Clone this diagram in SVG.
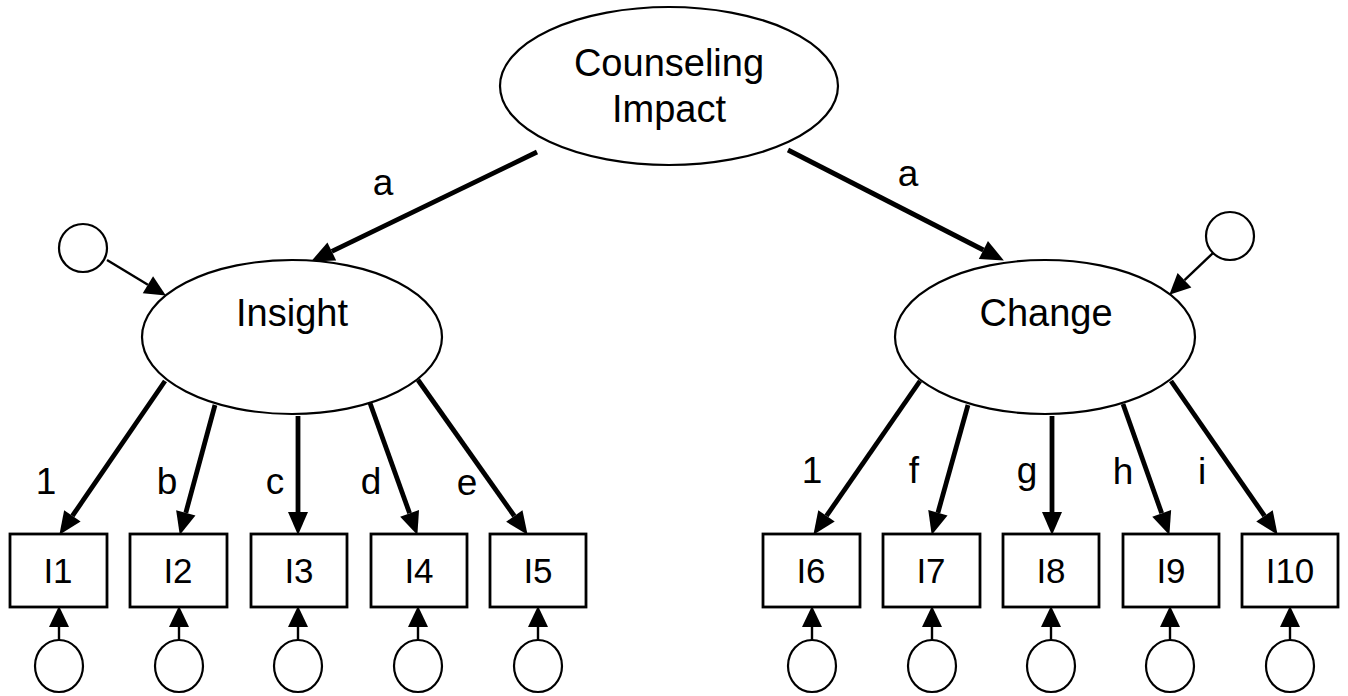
<svg xmlns="http://www.w3.org/2000/svg" width="1348" height="696" viewBox="0 0 1348 696">
<style>
.sh{fill:#fff;stroke:#000;stroke-width:2.2}
.bx{fill:#fff;stroke:#000;stroke-width:2.8}
.t{font-family:"Liberation Sans",Arial,sans-serif;fill:#000;text-anchor:middle}
.lat{font-size:38px}
.obs{font-size:35px}
.lab{font-size:37px}
.thick{stroke:#000;stroke-width:4.8;fill:none;marker-end:url(#hT)}
.thin{stroke:#000;stroke-width:2.4;fill:none;marker-end:url(#hS)}
</style>
<defs>
<marker id="hT" markerUnits="userSpaceOnUse" markerWidth="23" markerHeight="21" refX="0" refY="10" orient="auto" overflow="visible"><path d="M0,0 L23,10 L0,20 z" fill="#000"/></marker>
<marker id="hS" markerUnits="userSpaceOnUse" markerWidth="21" markerHeight="21" refX="0" refY="10" orient="auto" overflow="visible"><path d="M0,0 L21,10 L0,20 z" fill="#000"/></marker>
</defs>
<rect width="1348" height="696" fill="#fff"/>
<g id="connectors">
<line class="thick" x1="537" y1="152" x2="331.8" y2="251.4"/>
<line class="thick" x1="788" y1="150" x2="983.4" y2="250"/>
<line class="thick" x1="165" y1="381" x2="72.4" y2="515.9"/>
<line class="thick" x1="215" y1="405" x2="185.8" y2="512.8"/>
<line class="thick" x1="298" y1="416" x2="298" y2="512"/>
<line class="thick" x1="370" y1="403" x2="409.6" y2="513.3"/>
<line class="thick" x1="418" y1="380" x2="514.3" y2="516"/>
<line class="thick" x1="920" y1="381" x2="826.5" y2="515.9"/>
<line class="thick" x1="968" y1="405" x2="937.9" y2="512.8"/>
<line class="thick" x1="1052" y1="416" x2="1052" y2="512"/>
<line class="thick" x1="1123" y1="404" x2="1161.7" y2="513.3"/>
<line class="thick" x1="1171" y1="381" x2="1264.5" y2="515.9"/>
<line class="thin" x1="107" y1="260" x2="147.9" y2="284.7"/>
<line class="thin" x1="1213" y1="253" x2="1184.5" y2="280.2"/>
<line class="thin" x1="59" y1="641" x2="59" y2="627"/>
<line class="thin" x1="179" y1="641" x2="179" y2="627"/>
<line class="thin" x1="298" y1="641" x2="298" y2="627"/>
<line class="thin" x1="418" y1="641" x2="418" y2="627"/>
<line class="thin" x1="538" y1="641" x2="538" y2="627"/>
<line class="thin" x1="812" y1="641" x2="812" y2="627"/>
<line class="thin" x1="932" y1="641" x2="932" y2="627"/>
<line class="thin" x1="1051" y1="641" x2="1051" y2="627"/>
<line class="thin" x1="1170" y1="641" x2="1170" y2="627"/>
<line class="thin" x1="1290" y1="641" x2="1290" y2="627"/>
<text class="t lab" x="383" y="195">a</text>
<text class="t lab" x="908" y="186">a</text>
<text class="t lab" x="46" y="494">1</text>
<text class="t lab" x="167" y="494">b</text>
<text class="t lab" x="275" y="494">c</text>
<text class="t lab" x="371" y="494">d</text>
<text class="t lab" x="467" y="495">e</text>
<text class="t lab" x="812" y="483">1</text>
<text class="t lab" x="914" y="483">f</text>
<text class="t lab" x="1027" y="483">g</text>
<text class="t lab" x="1123" y="484">h</text>
<text class="t lab" x="1202" y="484">i</text>
</g>
<g id="counseling-impact">
<ellipse class="sh" cx="669" cy="86" rx="169" ry="79"/>
<text class="t lat" x="669" y="76">Counseling</text>
<text class="t lat" x="669" y="122">Impact</text>
</g>
<g id="insight">
<ellipse class="sh" cx="292" cy="337" rx="150" ry="77"/>
<text class="t lat" x="292" y="326">Insight</text>
</g>
<g id="change">
<ellipse class="sh" cx="1045" cy="337" rx="150" ry="77"/>
<text class="t lat" x="1046" y="326">Change</text>
</g>
<g id="d-insight"><circle class="sh" cx="83" cy="248" r="24"/></g>
<g id="d-change"><circle class="sh" cx="1230" cy="236" r="24"/></g>
<g id="I1"><rect class="bx" x="10" y="534" width="97" height="73"/><text class="t obs" x="58" y="583">I1</text></g>
<g id="I2"><rect class="bx" x="130" y="534" width="97" height="73"/><text class="t obs" x="178" y="583">I2</text></g>
<g id="I3"><rect class="bx" x="251" y="534" width="96" height="73"/><text class="t obs" x="299" y="583">I3</text></g>
<g id="I4"><rect class="bx" x="371" y="534" width="96" height="73"/><text class="t obs" x="419" y="583">I4</text></g>
<g id="I5"><rect class="bx" x="490" y="534" width="96" height="73"/><text class="t obs" x="538" y="583">I5</text></g>
<g id="I6"><rect class="bx" x="763" y="534" width="97" height="73"/><text class="t obs" x="811" y="583">I6</text></g>
<g id="I7"><rect class="bx" x="883" y="534" width="97" height="73"/><text class="t obs" x="931" y="583">I7</text></g>
<g id="I8"><rect class="bx" x="1003" y="534" width="96" height="73"/><text class="t obs" x="1051" y="583">I8</text></g>
<g id="I9"><rect class="bx" x="1123" y="534" width="96" height="73"/><text class="t obs" x="1171" y="583">I9</text></g>
<g id="I10"><rect class="bx" x="1242" y="534" width="96" height="73"/><text class="t obs" x="1290" y="583">I10</text></g>
<g id="e1"><ellipse class="sh" cx="59" cy="666" rx="24" ry="26"/></g>
<g id="e2"><ellipse class="sh" cx="179" cy="666" rx="24" ry="26"/></g>
<g id="e3"><ellipse class="sh" cx="298" cy="666" rx="24" ry="26"/></g>
<g id="e4"><ellipse class="sh" cx="418" cy="666" rx="24" ry="26"/></g>
<g id="e5"><ellipse class="sh" cx="538" cy="666" rx="24" ry="26"/></g>
<g id="e6"><ellipse class="sh" cx="812" cy="666" rx="24" ry="26"/></g>
<g id="e7"><ellipse class="sh" cx="932" cy="666" rx="24" ry="26"/></g>
<g id="e8"><ellipse class="sh" cx="1051" cy="666" rx="24" ry="26"/></g>
<g id="e9"><ellipse class="sh" cx="1170" cy="666" rx="24" ry="26"/></g>
<g id="e10"><ellipse class="sh" cx="1290" cy="666" rx="24" ry="26"/></g>
</svg>
